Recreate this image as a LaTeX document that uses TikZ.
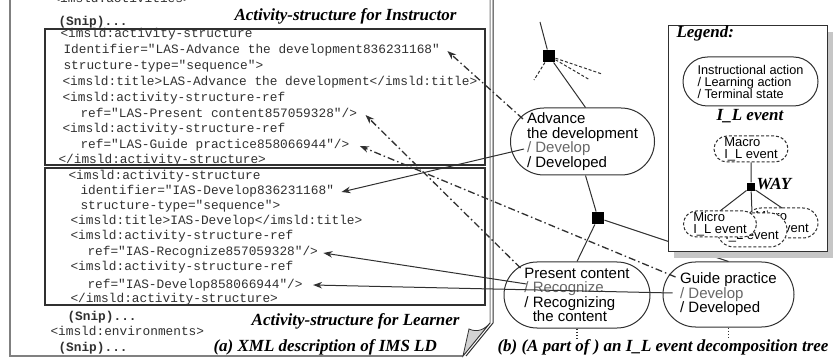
\documentclass[tikz,border=0pt]{standalone}
\usepackage{fontspec}
\setmainfont{Liberation Serif}
\setsansfont{Liberation Sans}
\setmonofont{Liberation Mono}
\usetikzlibrary{shapes.misc,calc,arrows.meta}
\definecolor{ink}{HTML}{303030}
\definecolor{txtgray}{HTML}{666666}

\begin{document}
\begin{tikzpicture}[x=1pt, y=-1pt, ink, line width=1pt,
  xml/.style = {font=\fontsize{12.8}{16}\selectfont\ttfamily, anchor=west, inner sep=0pt, text height=8.5pt, text depth=2.5pt},
  snip/.style = {xml, font=\fontsize{12.8}{16}\selectfont\ttfamily\bfseries},
  captext/.style = {font=\fontsize{17}{17}\selectfont\bfseries\itshape, inner sep=0pt, text=black},
  ev/.style = {draw=ink, rounded rectangle, align=left, inner sep=0pt, text=black, font=\fontsize{15}{14.6}\selectfont\sffamily},
  legev/.style = {ev, font=\fontsize{12.7}{12}\selectfont\sffamily},
  micro/.style = {legev, dashed, fill=white, dash pattern=on 3pt off 2pt, font=\fontsize{13}{12}\selectfont\sffamily},
  way/.style = {fill=black, draw=none, inner sep=0pt},
  dashdot/.style = {line width=1.3pt, dash pattern=on 7pt off 3pt on 1.5pt off 3pt},
  arr/.style = {-{Stealth[length=9pt,width=6.5pt]}}]
	\useasboundingbox (0,0) rectangle (833,358);

	% page of the XML file
	\draw[gray, line width=2pt] (10,0) -- (10,356) -- (463,356);
	\draw[gray, line width=1pt] (490,0) -- (490,323) -- (463,356);
	\draw[ink, line width=1pt] (493,0) -- (493,323) -- (466,356);
	\draw[ink, fill=gray!35, line width=.8pt] (469,329) .. controls (478,333) and (485,329) .. (490,323) -- (463,356) -- cycle;

	\node[xml] (acts) at (52,0) {<imsld:activities>};
	\node[snip] (snip1) at (58,23) {(Snip)...};
	\draw[line width=1.5pt] (45,29) rectangle (485,165);
	\draw[line width=1.5pt] (45,168) rectangle (485,305);

	% instructor
	\node[xml] (asI) at (60,35) {<imsld:activity-structure};
	\node[xml] (idLAS) at (63,51) {Identifier="LAS-Advance the development836231168"};
	\node[xml] (stI) at (63,67) {structure-type="sequence">};
	\node[xml] (tiI) at (62,83) {<imsld:title>LAS-Advance the development</imsld:title>};
	\node[xml] (asr1) at (62,99) {<imsld:activity-structure-ref};
	\node[xml] (refLASp) at (80,115) {ref="LAS-Present content857059328"/>};
	\node[xml] (asr2) at (62,130) {<imsld:activity-structure-ref};
	\node[xml] (refLASg) at (80,146) {ref="LAS-Guide practice858066944"/>};
	\node[xml] (endI) at (58,161) {</imsld:activity-structure>};

	% learner
	\node[xml] (asL) at (68,177) {<imsld:activity-structure};
	\node[xml] (idIAS) at (80,192) {identifier="IAS-Develop836231168"};
	\node[xml] (stL) at (80,207) {structure-type="sequence">};
	\node[xml] (tiL) at (70,222) {<imsld:title>IAS-Develop</imsld:title>};
	\node[xml] (asr3) at (70,237) {<imsld:activity-structure-ref};
	\node[xml] (refIASr) at (87,253) {ref="IAS-Recognize857059328"/>};
	\node[xml] (asr4) at (70,268) {<imsld:activity-structure-ref};
	\node[xml] (refIASd) at (87,285) {ref="IAS-Develop858066944"/>};
	\node[xml] (endL) at (70,299) {</imsld:activity-structure>};
	\node[snip] (snip2) at (67,317) {(Snip)...};
	\node[xml] (envs) at (50,332) {<imsld:environments>};
	\node[snip] (snip3) at (58,348) {(Snip)...};

	\node[captext, anchor=east] (capI) at (457,16) {Activity-structure for Instructor};
	\node[captext, anchor=east] (capL) at (460,321) {Activity-structure for Learner};
	\node[captext, anchor=west] (capA) at (213,347) {(a) XML description of IMS LD};
	\node[captext, anchor=west] (capB) at (497,347) {(b) (A part of ) an I\_L event decomposition tree};

	% decomposition tree
	\node[ev, minimum width=135pt, minimum height=67pt] (adv) at (582.5,141.5) {Advance\\the development\\{\color{txtgray}/ Develop}\\/ Developed};
	\node[ev, minimum width=146pt, minimum height=66pt] (pres) at (577,295) {Present content\\{\color{txtgray}/ Recognize}\\/ Recognizing\\\hspace{8.3pt}the content};
	\node[ev, minimum width=131pt, minimum height=65pt] (guide) at (728.5,294.5) {Guide practice\\{\color{txtgray}/ Develop}\\/ Developed};

	\coordinate (up) at (540,22);
	\coordinate (o1) at (534,80);
	\coordinate (o2) at (602,74);
	\coordinate (o3) at (590,80);
	\node[way, minimum size=12pt] (w1) at (549,56) {};
	\node[way, minimum size=12pt] (w2) at (598,218) {};
	\draw (up) -- (w1);
	\draw[dash pattern=on 3pt off 2pt] (w1) -- (o1);
	\draw[dash pattern=on 3pt off 2pt] (w1) -- (o2);
	\draw[dash pattern=on 3pt off 2pt] (w1) -- (o3);
	\draw (w1) -- ([xshift=3pt]adv.north);
	\draw ([xshift=3pt]adv.south) -- (w2);
	\draw (w2) -- (pres.north);
	\draw (w2) -- (guide.north);
	\draw[dotted, line width=1.2pt] (pres.south) -- ++(0,11);
	\draw[dotted, line width=1.2pt] (guide.south) -- ++(0,11);

	% legend
	\fill[gray!45] (674,32) rectangle (833,258);
	\draw[fill=white, line width=.8pt] (668,25) rectangle (827,251);
	\node[captext, anchor=west] (leg) at (676,33) {Legend:};
	\node[legev, minimum width=135pt, minimum height=49pt] (lev) at (750.5,81.5) {Instructional action\\/ Learning action\\/ Terminal state};
	\node[captext] (ilev) at (750,116) {I\_L event};
	\node[micro, minimum width=74pt, minimum height=26pt] (macro) at (751,149) {Macro\\I\_L event};
	\node[way, minimum size=8pt] (w3) at (751,187) {};
	\node[captext, anchor=west] (wayl) at (756,184) {WAY};
	\draw (macro) -- (w3);
	\draw (w3) -- (720,211);
	\draw (w3) -- (752,213);
	\draw (w3) -- (782,208);
	\node[micro, minimum width=72pt, minimum height=30pt] (m3) at (782,223) {Micro\\I\_L event};
	\node[micro, minimum width=70pt, minimum height=34pt] (m2) at (752,230) {Micro\\I\_L event};
	\node[micro, minimum width=73pt, minimum height=26pt] (m1) at (720,224) {Micro\\I\_L event};

	% references from the tree to the XML
	\draw[dashdot, arr] ($(adv.west)+(13,-22.5)$) -- ([xshift=7pt]idLAS.east);
	\draw[arr] ($(adv.west)+(14,7.5)$) -- ([xshift=7pt]idIAS.east);
	\draw[dashdot, arr] ($(pres.west)+(17,-27)$) -- ([xshift=8pt]refLASp.east);
	\draw[dashdot, arr] ($(guide.west)+(13,-17.5)$) -- ([xshift=10pt]refLASg.east);
	\draw[arr] ($(pres.west)+(23,-11)$) -- ([xshift=5pt]refIASr.east);
	\draw[arr] ($(guide.west)+(10,-1.5)$) -- ([xshift=10pt]refIASd.east);
\end{tikzpicture}
\end{document}
